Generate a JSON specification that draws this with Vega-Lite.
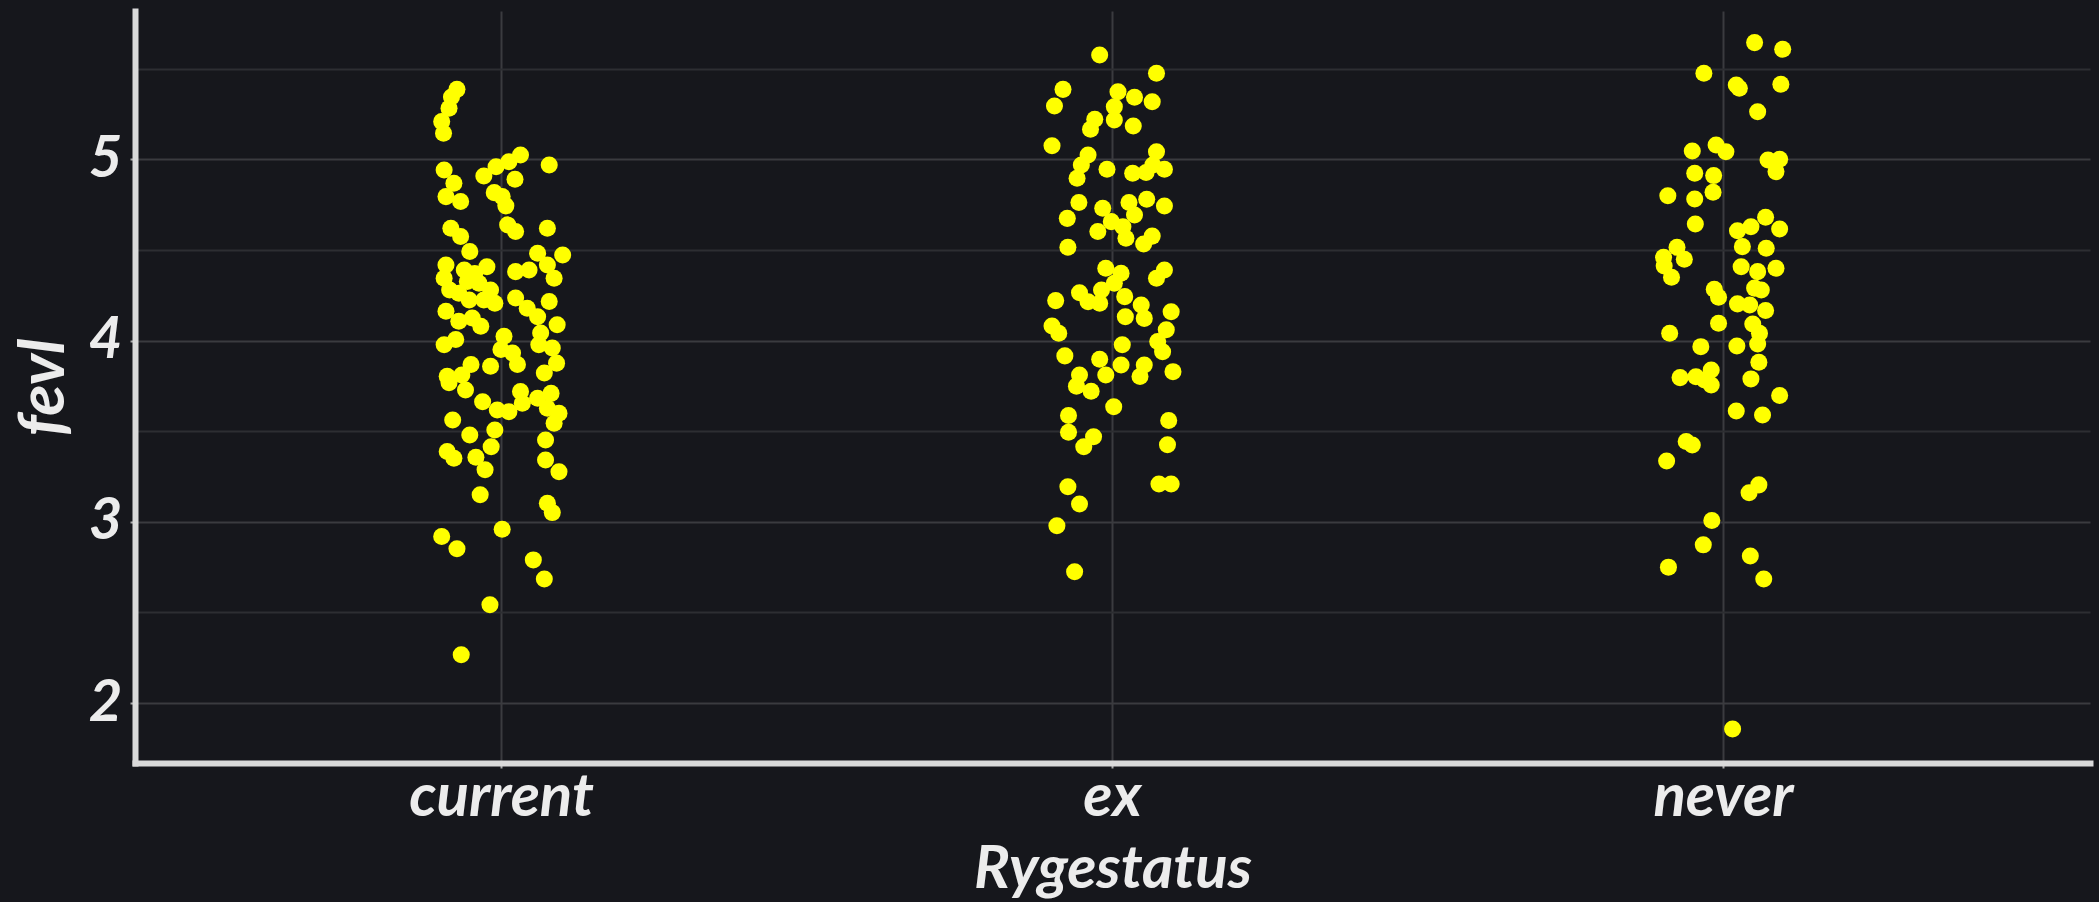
{
  "$schema": "https://vega.github.io/schema/vega-lite/v6.json",
  "width": 1955,
  "height": 752,
  "autosize": {"type": "none"},
  "padding": {"left": 135, "top": 11, "right": 9, "bottom": 139},
  "background": "#16171c",
  "config": {"view": {"stroke": null}, "font": "Lato"},
  "datasets": {
    "fev": [
      {"Rygestatus":"current","fevl":5.387,"jitter":-0.073},
      {"Rygestatus":"current","fevl":5.345,"jitter":-0.082},
      {"Rygestatus":"current","fevl":5.283,"jitter":-0.086},
      {"Rygestatus":"current","fevl":5.209,"jitter":-0.098},
      {"Rygestatus":"current","fevl":5.145,"jitter":-0.095},
      {"Rygestatus":"current","fevl":5.025,"jitter":0.031},
      {"Rygestatus":"current","fevl":4.988,"jitter":0.012},
      {"Rygestatus":"current","fevl":4.960,"jitter":-0.009},
      {"Rygestatus":"current","fevl":4.909,"jitter":-0.029},
      {"Rygestatus":"current","fevl":4.891,"jitter":0.022},
      {"Rygestatus":"current","fevl":4.970,"jitter":0.078},
      {"Rygestatus":"current","fevl":4.942,"jitter":-0.094},
      {"Rygestatus":"current","fevl":4.869,"jitter":-0.078},
      {"Rygestatus":"current","fevl":4.795,"jitter":-0.091},
      {"Rygestatus":"current","fevl":4.768,"jitter":-0.067},
      {"Rygestatus":"current","fevl":4.817,"jitter":-0.012},
      {"Rygestatus":"current","fevl":4.795,"jitter":0.001},
      {"Rygestatus":"current","fevl":4.744,"jitter":0.007},
      {"Rygestatus":"current","fevl":4.639,"jitter":0.010},
      {"Rygestatus":"current","fevl":4.602,"jitter":0.023},
      {"Rygestatus":"current","fevl":4.621,"jitter":0.075},
      {"Rygestatus":"current","fevl":4.621,"jitter":-0.083},
      {"Rygestatus":"current","fevl":4.575,"jitter":-0.067},
      {"Rygestatus":"current","fevl":4.492,"jitter":-0.052},
      {"Rygestatus":"current","fevl":4.418,"jitter":-0.091},
      {"Rygestatus":"current","fevl":4.344,"jitter":-0.094},
      {"Rygestatus":"current","fevl":4.390,"jitter":-0.061},
      {"Rygestatus":"current","fevl":4.408,"jitter":-0.024},
      {"Rygestatus":"current","fevl":4.326,"jitter":-0.056},
      {"Rygestatus":"current","fevl":4.317,"jitter":-0.037},
      {"Rygestatus":"current","fevl":4.280,"jitter":-0.018},
      {"Rygestatus":"current","fevl":4.207,"jitter":-0.011},
      {"Rygestatus":"current","fevl":4.225,"jitter":-0.053},
      {"Rygestatus":"current","fevl":4.262,"jitter":-0.070},
      {"Rygestatus":"current","fevl":4.225,"jitter":-0.029},
      {"Rygestatus":"current","fevl":4.280,"jitter":-0.085},
      {"Rygestatus":"current","fevl":4.371,"jitter":-0.044},
      {"Rygestatus":"current","fevl":4.162,"jitter":-0.091},
      {"Rygestatus":"current","fevl":4.107,"jitter":-0.070},
      {"Rygestatus":"current","fevl":4.125,"jitter":-0.048},
      {"Rygestatus":"current","fevl":4.079,"jitter":-0.034},
      {"Rygestatus":"current","fevl":4.482,"jitter":0.059},
      {"Rygestatus":"current","fevl":4.473,"jitter":0.100},
      {"Rygestatus":"current","fevl":4.418,"jitter":0.075},
      {"Rygestatus":"current","fevl":4.344,"jitter":0.086},
      {"Rygestatus":"current","fevl":4.381,"jitter":0.023},
      {"Rygestatus":"current","fevl":4.390,"jitter":0.045},
      {"Rygestatus":"current","fevl":4.235,"jitter":0.023},
      {"Rygestatus":"current","fevl":4.179,"jitter":0.042},
      {"Rygestatus":"current","fevl":4.132,"jitter":0.059},
      {"Rygestatus":"current","fevl":4.216,"jitter":0.078},
      {"Rygestatus":"current","fevl":4.088,"jitter":0.091},
      {"Rygestatus":"current","fevl":4.042,"jitter":0.064},
      {"Rygestatus":"current","fevl":3.978,"jitter":0.061},
      {"Rygestatus":"current","fevl":3.959,"jitter":0.083},
      {"Rygestatus":"current","fevl":3.876,"jitter":0.090},
      {"Rygestatus":"current","fevl":3.821,"jitter":0.070},
      {"Rygestatus":"current","fevl":3.978,"jitter":-0.094},
      {"Rygestatus":"current","fevl":4.006,"jitter":-0.075},
      {"Rygestatus":"current","fevl":4.024,"jitter":0.004},
      {"Rygestatus":"current","fevl":3.951,"jitter":-0.001},
      {"Rygestatus":"current","fevl":3.932,"jitter":0.018},
      {"Rygestatus":"current","fevl":3.868,"jitter":0.026},
      {"Rygestatus":"current","fevl":3.868,"jitter":-0.050},
      {"Rygestatus":"current","fevl":3.804,"jitter":-0.089},
      {"Rygestatus":"current","fevl":3.859,"jitter":-0.018},
      {"Rygestatus":"current","fevl":3.810,"jitter":-0.065},
      {"Rygestatus":"current","fevl":3.768,"jitter":-0.086},
      {"Rygestatus":"current","fevl":3.728,"jitter":-0.059},
      {"Rygestatus":"current","fevl":3.663,"jitter":-0.031},
      {"Rygestatus":"current","fevl":3.719,"jitter":0.031},
      {"Rygestatus":"current","fevl":3.654,"jitter":0.034},
      {"Rygestatus":"current","fevl":3.682,"jitter":0.059},
      {"Rygestatus":"current","fevl":3.709,"jitter":0.081},
      {"Rygestatus":"current","fevl":3.627,"jitter":0.075},
      {"Rygestatus":"current","fevl":3.599,"jitter":0.094},
      {"Rygestatus":"current","fevl":3.544,"jitter":0.086},
      {"Rygestatus":"current","fevl":3.617,"jitter":-0.007},
      {"Rygestatus":"current","fevl":3.608,"jitter":0.012},
      {"Rygestatus":"current","fevl":3.507,"jitter":-0.011},
      {"Rygestatus":"current","fevl":3.415,"jitter":-0.017},
      {"Rygestatus":"current","fevl":3.562,"jitter":-0.080},
      {"Rygestatus":"current","fevl":3.479,"jitter":-0.052},
      {"Rygestatus":"current","fevl":3.388,"jitter":-0.089},
      {"Rygestatus":"current","fevl":3.351,"jitter":-0.078},
      {"Rygestatus":"current","fevl":3.357,"jitter":-0.042},
      {"Rygestatus":"current","fevl":3.287,"jitter":-0.027},
      {"Rygestatus":"current","fevl":3.452,"jitter":0.072},
      {"Rygestatus":"current","fevl":3.341,"jitter":0.072},
      {"Rygestatus":"current","fevl":3.277,"jitter":0.094},
      {"Rygestatus":"current","fevl":3.149,"jitter":-0.035},
      {"Rygestatus":"current","fevl":3.103,"jitter":0.075},
      {"Rygestatus":"current","fevl":3.051,"jitter":0.083},
      {"Rygestatus":"current","fevl":2.959,"jitter":0.001},
      {"Rygestatus":"current","fevl":2.919,"jitter":-0.098},
      {"Rygestatus":"current","fevl":2.851,"jitter":-0.073},
      {"Rygestatus":"current","fevl":2.790,"jitter":0.052},
      {"Rygestatus":"current","fevl":2.684,"jitter":0.070},
      {"Rygestatus":"current","fevl":2.542,"jitter":-0.019},
      {"Rygestatus":"current","fevl":2.266,"jitter":-0.066},

      {"Rygestatus":"ex","fevl":5.577,"jitter":-0.021},
      {"Rygestatus":"ex","fevl":5.476,"jitter":0.072},
      {"Rygestatus":"ex","fevl":5.387,"jitter":-0.081},
      {"Rygestatus":"ex","fevl":5.295,"jitter":-0.095},
      {"Rygestatus":"ex","fevl":5.374,"jitter":0.009},
      {"Rygestatus":"ex","fevl":5.343,"jitter":0.036},
      {"Rygestatus":"ex","fevl":5.319,"jitter":0.065},
      {"Rygestatus":"ex","fevl":5.291,"jitter":0.003},
      {"Rygestatus":"ex","fevl":5.218,"jitter":0.003},
      {"Rygestatus":"ex","fevl":5.222,"jitter":-0.029},
      {"Rygestatus":"ex","fevl":5.167,"jitter":-0.036},
      {"Rygestatus":"ex","fevl":5.185,"jitter":0.034},
      {"Rygestatus":"ex","fevl":5.076,"jitter":-0.099},
      {"Rygestatus":"ex","fevl":5.025,"jitter":-0.040},
      {"Rygestatus":"ex","fevl":4.970,"jitter":-0.051},
      {"Rygestatus":"ex","fevl":4.896,"jitter":-0.058},
      {"Rygestatus":"ex","fevl":4.946,"jitter":-0.009},
      {"Rygestatus":"ex","fevl":5.043,"jitter":0.072},
      {"Rygestatus":"ex","fevl":4.970,"jitter":0.066},
      {"Rygestatus":"ex","fevl":4.946,"jitter":0.085},
      {"Rygestatus":"ex","fevl":4.924,"jitter":0.033},
      {"Rygestatus":"ex","fevl":4.928,"jitter":0.055},
      {"Rygestatus":"ex","fevl":4.762,"jitter":-0.055},
      {"Rygestatus":"ex","fevl":4.675,"jitter":-0.074},
      {"Rygestatus":"ex","fevl":4.731,"jitter":-0.016},
      {"Rygestatus":"ex","fevl":4.602,"jitter":-0.024},
      {"Rygestatus":"ex","fevl":4.657,"jitter":-0.002},
      {"Rygestatus":"ex","fevl":4.762,"jitter":0.027},
      {"Rygestatus":"ex","fevl":4.781,"jitter":0.056},
      {"Rygestatus":"ex","fevl":4.743,"jitter":0.085},
      {"Rygestatus":"ex","fevl":4.694,"jitter":0.036},
      {"Rygestatus":"ex","fevl":4.565,"jitter":0.022},
      {"Rygestatus":"ex","fevl":4.629,"jitter":0.017},
      {"Rygestatus":"ex","fevl":4.534,"jitter":0.051},
      {"Rygestatus":"ex","fevl":4.577,"jitter":0.065},
      {"Rygestatus":"ex","fevl":4.516,"jitter":-0.073},
      {"Rygestatus":"ex","fevl":4.400,"jitter":-0.011},
      {"Rygestatus":"ex","fevl":4.372,"jitter":0.014},
      {"Rygestatus":"ex","fevl":4.265,"jitter":-0.054},
      {"Rygestatus":"ex","fevl":4.215,"jitter":-0.040},
      {"Rygestatus":"ex","fevl":4.206,"jitter":-0.021},
      {"Rygestatus":"ex","fevl":4.280,"jitter":-0.018},
      {"Rygestatus":"ex","fevl":4.317,"jitter":0.003},
      {"Rygestatus":"ex","fevl":4.243,"jitter":0.020},
      {"Rygestatus":"ex","fevl":4.221,"jitter":-0.093},
      {"Rygestatus":"ex","fevl":4.344,"jitter":0.072},
      {"Rygestatus":"ex","fevl":4.390,"jitter":0.085},
      {"Rygestatus":"ex","fevl":4.197,"jitter":0.047},
      {"Rygestatus":"ex","fevl":4.123,"jitter":0.052},
      {"Rygestatus":"ex","fevl":4.132,"jitter":0.021},
      {"Rygestatus":"ex","fevl":4.160,"jitter":0.096},
      {"Rygestatus":"ex","fevl":4.081,"jitter":-0.099},
      {"Rygestatus":"ex","fevl":4.041,"jitter":-0.088},
      {"Rygestatus":"ex","fevl":4.060,"jitter":0.088},
      {"Rygestatus":"ex","fevl":3.995,"jitter":0.074},
      {"Rygestatus":"ex","fevl":3.977,"jitter":0.016},
      {"Rygestatus":"ex","fevl":3.916,"jitter":-0.078},
      {"Rygestatus":"ex","fevl":3.897,"jitter":-0.021},
      {"Rygestatus":"ex","fevl":3.939,"jitter":0.082},
      {"Rygestatus":"ex","fevl":3.811,"jitter":-0.011},
      {"Rygestatus":"ex","fevl":3.866,"jitter":0.014},
      {"Rygestatus":"ex","fevl":3.866,"jitter":0.052},
      {"Rygestatus":"ex","fevl":3.802,"jitter":0.045},
      {"Rygestatus":"ex","fevl":3.829,"jitter":0.099},
      {"Rygestatus":"ex","fevl":3.811,"jitter":-0.054},
      {"Rygestatus":"ex","fevl":3.749,"jitter":-0.059},
      {"Rygestatus":"ex","fevl":3.721,"jitter":-0.035},
      {"Rygestatus":"ex","fevl":3.635,"jitter":0.002},
      {"Rygestatus":"ex","fevl":3.587,"jitter":-0.072},
      {"Rygestatus":"ex","fevl":3.495,"jitter":-0.072},
      {"Rygestatus":"ex","fevl":3.470,"jitter":-0.031},
      {"Rygestatus":"ex","fevl":3.414,"jitter":-0.047},
      {"Rygestatus":"ex","fevl":3.559,"jitter":0.092},
      {"Rygestatus":"ex","fevl":3.425,"jitter":0.090},
      {"Rygestatus":"ex","fevl":3.209,"jitter":0.076},
      {"Rygestatus":"ex","fevl":3.209,"jitter":0.096},
      {"Rygestatus":"ex","fevl":3.194,"jitter":-0.073},
      {"Rygestatus":"ex","fevl":3.099,"jitter":-0.054},
      {"Rygestatus":"ex","fevl":2.979,"jitter":-0.091},
      {"Rygestatus":"ex","fevl":2.725,"jitter":-0.062},

      {"Rygestatus":"never","fevl":5.645,"jitter":0.051},
      {"Rygestatus":"never","fevl":5.608,"jitter":0.097},
      {"Rygestatus":"never","fevl":5.476,"jitter":-0.032},
      {"Rygestatus":"never","fevl":5.411,"jitter":0.021},
      {"Rygestatus":"never","fevl":5.393,"jitter":0.026},
      {"Rygestatus":"never","fevl":5.415,"jitter":0.094},
      {"Rygestatus":"never","fevl":5.264,"jitter":0.056},
      {"Rygestatus":"never","fevl":5.047,"jitter":-0.051},
      {"Rygestatus":"never","fevl":5.080,"jitter":-0.012},
      {"Rygestatus":"never","fevl":5.043,"jitter":0.004},
      {"Rygestatus":"never","fevl":4.997,"jitter":0.073},
      {"Rygestatus":"never","fevl":5.001,"jitter":0.092},
      {"Rygestatus":"never","fevl":4.933,"jitter":0.086},
      {"Rygestatus":"never","fevl":4.924,"jitter":-0.047},
      {"Rygestatus":"never","fevl":4.911,"jitter":-0.016},
      {"Rygestatus":"never","fevl":4.819,"jitter":-0.017},
      {"Rygestatus":"never","fevl":4.782,"jitter":-0.047},
      {"Rygestatus":"never","fevl":4.800,"jitter":-0.091},
      {"Rygestatus":"never","fevl":4.644,"jitter":-0.046},
      {"Rygestatus":"never","fevl":4.607,"jitter":0.023},
      {"Rygestatus":"never","fevl":4.629,"jitter":0.045},
      {"Rygestatus":"never","fevl":4.681,"jitter":0.069},
      {"Rygestatus":"never","fevl":4.616,"jitter":0.092},
      {"Rygestatus":"never","fevl":4.519,"jitter":0.031},
      {"Rygestatus":"never","fevl":4.510,"jitter":0.070},
      {"Rygestatus":"never","fevl":4.515,"jitter":-0.076},
      {"Rygestatus":"never","fevl":4.460,"jitter":-0.098},
      {"Rygestatus":"never","fevl":4.449,"jitter":-0.064},
      {"Rygestatus":"never","fevl":4.412,"jitter":-0.097},
      {"Rygestatus":"never","fevl":4.350,"jitter":-0.085},
      {"Rygestatus":"never","fevl":4.408,"jitter":0.029},
      {"Rygestatus":"never","fevl":4.381,"jitter":0.056},
      {"Rygestatus":"never","fevl":4.400,"jitter":0.086},
      {"Rygestatus":"never","fevl":4.284,"jitter":-0.015},
      {"Rygestatus":"never","fevl":4.240,"jitter":-0.008},
      {"Rygestatus":"never","fevl":4.290,"jitter":0.051},
      {"Rygestatus":"never","fevl":4.280,"jitter":0.062},
      {"Rygestatus":"never","fevl":4.203,"jitter":0.023},
      {"Rygestatus":"never","fevl":4.197,"jitter":0.043},
      {"Rygestatus":"never","fevl":4.166,"jitter":0.069},
      {"Rygestatus":"never","fevl":4.096,"jitter":-0.008},
      {"Rygestatus":"never","fevl":4.092,"jitter":0.048},
      {"Rygestatus":"never","fevl":4.041,"jitter":-0.088},
      {"Rygestatus":"never","fevl":4.041,"jitter":0.059},
      {"Rygestatus":"never","fevl":3.982,"jitter":0.056},
      {"Rygestatus":"never","fevl":3.967,"jitter":-0.037},
      {"Rygestatus":"never","fevl":3.971,"jitter":0.022},
      {"Rygestatus":"never","fevl":3.881,"jitter":0.058},
      {"Rygestatus":"never","fevl":3.796,"jitter":-0.071},
      {"Rygestatus":"never","fevl":3.801,"jitter":-0.045},
      {"Rygestatus":"never","fevl":3.838,"jitter":-0.020},
      {"Rygestatus":"never","fevl":3.755,"jitter":-0.020},
      {"Rygestatus":"never","fevl":3.783,"jitter":-0.031},
      {"Rygestatus":"never","fevl":3.789,"jitter":0.045},
      {"Rygestatus":"never","fevl":3.697,"jitter":0.092},
      {"Rygestatus":"never","fevl":3.612,"jitter":0.021},
      {"Rygestatus":"never","fevl":3.590,"jitter":0.064},
      {"Rygestatus":"never","fevl":3.443,"jitter":-0.061},
      {"Rygestatus":"never","fevl":3.424,"jitter":-0.051},
      {"Rygestatus":"never","fevl":3.336,"jitter":-0.093},
      {"Rygestatus":"never","fevl":3.204,"jitter":0.058},
      {"Rygestatus":"never","fevl":3.161,"jitter":0.042},
      {"Rygestatus":"never","fevl":3.007,"jitter":-0.019},
      {"Rygestatus":"never","fevl":2.873,"jitter":-0.033},
      {"Rygestatus":"never","fevl":2.750,"jitter":-0.090},
      {"Rygestatus":"never","fevl":2.812,"jitter":0.044},
      {"Rygestatus":"never","fevl":2.685,"jitter":0.066},
      {"Rygestatus":"never","fevl":1.857,"jitter":0.015}
    ]
  },
  "data": {"name": "fev"},
  "mark": {"type": "circle", "size": 290, "opacity": 1, "color": "#ffff00"},
  "encoding": {
    "x": {
      "field": "Rygestatus",
      "type": "nominal",
      "sort": ["current", "ex", "never"],
      "scale": {"paddingInner": 0, "paddingOuter": 0.1},
      "axis": {
        "title": "Rygestatus",
        "labelAngle": 0,
        "labelLimit": 0,
        "bandPosition": 0.5,
        "grid": true,
        "gridColor": "#3a3b3f",
        "gridWidth": 2,
        "domainColor": "#d9d9d9",
        "domainWidth": 6,
        "domainCap": "square",
        "tickColor": "#a9a9a9",
        "tickSize": 5,
        "tickWidth": 2,
        "labelFont": "Lato",
        "labelFontWeight": "bold",
        "labelFontStyle": "italic",
        "labelFontSize": 60,
        "labelColor": "#ececec",
        "labelBaseline": "alphabetic",
        "labelPadding": 47,
        "titleFont": "Lato",
        "titleFontWeight": "bold",
        "titleFontStyle": "italic",
        "titleFontSize": 60,
        "titleColor": "#ececec",
        "titleBaseline": "alphabetic",
        "titleY": 124
      }
    },
    "xOffset": {
      "field": "jitter",
      "type": "quantitative",
      "scale": {"domain": [-0.5, 0.5], "nice": false, "zero": false}
    },
    "y": {
      "field": "fevl",
      "type": "quantitative",
      "scale": {"domain": [1.669, 5.8195], "nice": false, "zero": false},
      "axis": {
        "title": "fevl",
        "values": [2, 2.5, 3, 3.5, 4, 4.5, 5, 5.5],
        "labelExpr": "datum.value % 1 === 0 ? format(datum.value, 'd') : ''",
        "grid": true,
        "gridWidth": 2,
        "gridColor": {"condition": {"test": "datum.value % 1 !== 0", "value": "#2d2e32"}, "value": "#3a3b3f"},
        "tickOpacity": {"condition": {"test": "datum.value % 1 !== 0", "value": 0}, "value": 1},
        "domainColor": "#d9d9d9",
        "domainWidth": 6,
        "domainCap": "square",
        "tickColor": "#a9a9a9",
        "tickSize": 5,
        "tickWidth": 2,
        "labelFont": "Lato",
        "labelFontWeight": "bold",
        "labelFontStyle": "italic",
        "labelFontSize": 58,
        "labelColor": "#ececec",
        "labelPadding": 8,
        "titleFont": "Lato",
        "titleFontWeight": "bold",
        "titleFontStyle": "italic",
        "titleFontSize": 64,
        "titleColor": "#ececec",
        "titleBaseline": "middle",
        "titleX": -91
      }
    }
  }
}
